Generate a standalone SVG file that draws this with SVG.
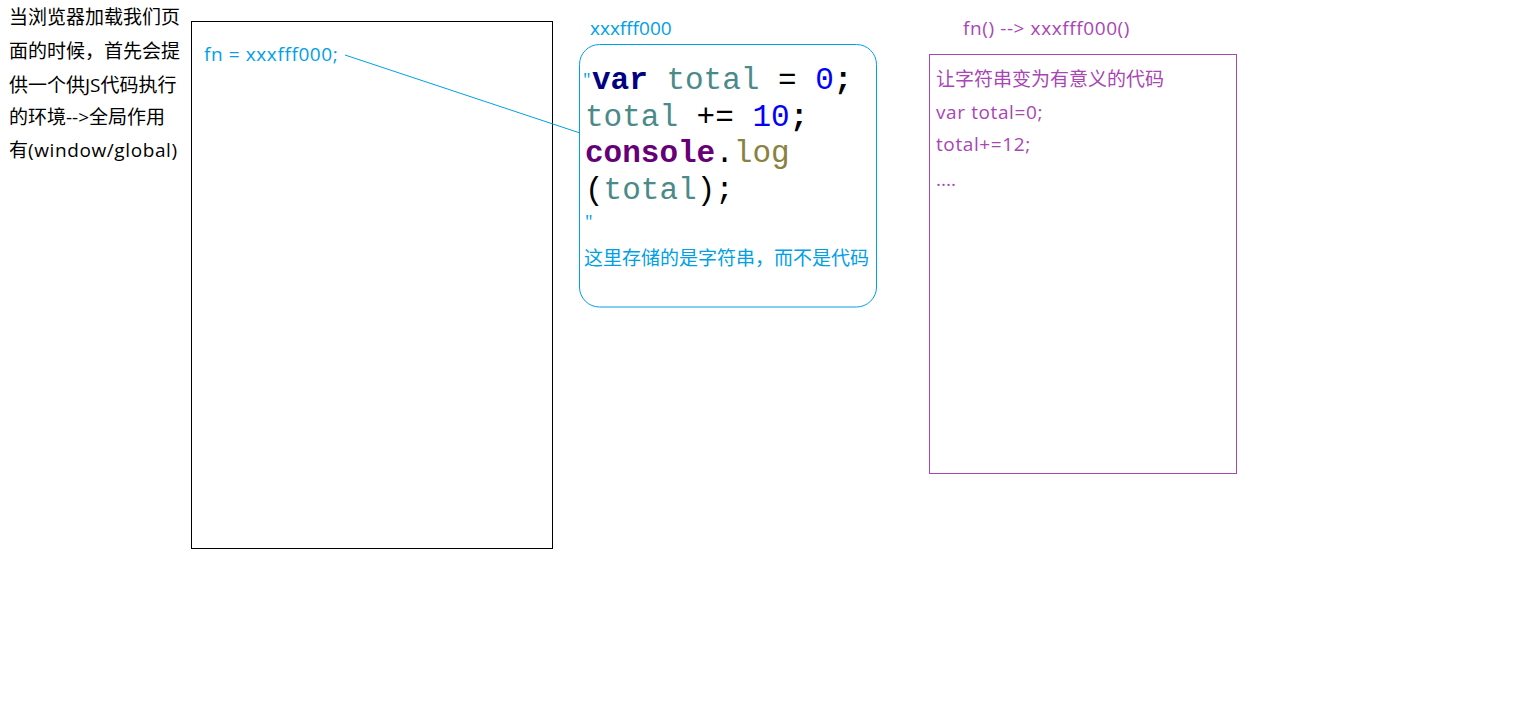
<svg xmlns="http://www.w3.org/2000/svg" width="1540" height="718" viewBox="0 0 1540 718">
<style>
.t{font-family:"Open Sans","Noto Sans CJK SC",sans-serif;font-size:19px}
.w{letter-spacing:0.6px}
.k{fill:#000}
.c{fill:#00a0e6}
.p{fill:#a945b5}
.code{font-family:"Liberation Mono",monospace;font-size:31px}
</style>
<rect width="1540" height="718" fill="#fff"/>
<g id="intro">
<text class="t k" x="9" y="24">当浏览器加载我们页</text>
<text class="t k" x="9" y="58">面的时候，首先会提</text>
<text class="t k" x="9" y="92">供一个供JS代码执行</text>
<text class="t k" x="9" y="124">的环境--&gt;全局作用</text>
<text class="t k" x="9" y="157">有<tspan class="w">(window/global)</tspan></text>
</g>
<g id="global-scope">
<rect x="191.5" y="21.5" width="361" height="527" fill="none" stroke="#000" stroke-width="1"/>
<text class="t c w" x="204" y="61">fn = xxxfff000;</text>
</g>
<g id="heap">
<text class="t c" x="590" y="35">xxxfff000</text>
<rect x="579.5" y="44.5" width="297" height="262.5" rx="20" fill="none" stroke="#00a0e6" stroke-width="1"/>
<text class="t c" x="583" y="86" font-size="12">"</text>
<text class="code" x="592" y="89"><tspan fill="#000080" font-weight="bold">var</tspan><tspan fill="#4a8a8a"> total</tspan><tspan fill="#000"> = </tspan><tspan fill="#0000ff">0</tspan><tspan fill="#000" font-weight="bold">;</tspan></text>
<text class="code" x="585" y="126"><tspan fill="#4a8a8a">total</tspan><tspan fill="#000"> += </tspan><tspan fill="#0000ff">10</tspan><tspan fill="#000" font-weight="bold">;</tspan></text>
<text class="code" x="585" y="162"><tspan fill="#660077" font-weight="bold">console</tspan><tspan fill="#000">.</tspan><tspan fill="#8a8040">log</tspan></text>
<text class="code" x="585" y="199"><tspan fill="#000">(</tspan><tspan fill="#4a8a8a">total</tspan><tspan fill="#000">);</tspan></text>
<text class="t c" x="585" y="228" font-size="12">"</text>
<text class="t c" x="584" y="265">这里存储的是字符串，而不是代码</text>
</g>
<g id="execution">
<text class="t p w" x="963" y="35">fn() --&gt; xxxfff000()</text>
<rect x="929.5" y="54.5" width="307" height="419" fill="none" stroke="#a945b5" stroke-width="1"/>
<text class="t p" x="936" y="86">让字符串变为有意义的代码</text>
<text class="t p w" x="936" y="119">var total=0;</text>
<text class="t p w" x="936" y="151">total+=12;</text>
<text class="t p" x="936" y="186">....</text>
</g>
<g id="connectors">
<line x1="345" y1="55" x2="580" y2="133" stroke="#00a0e6" stroke-width="1"/>
</g>
</svg>
